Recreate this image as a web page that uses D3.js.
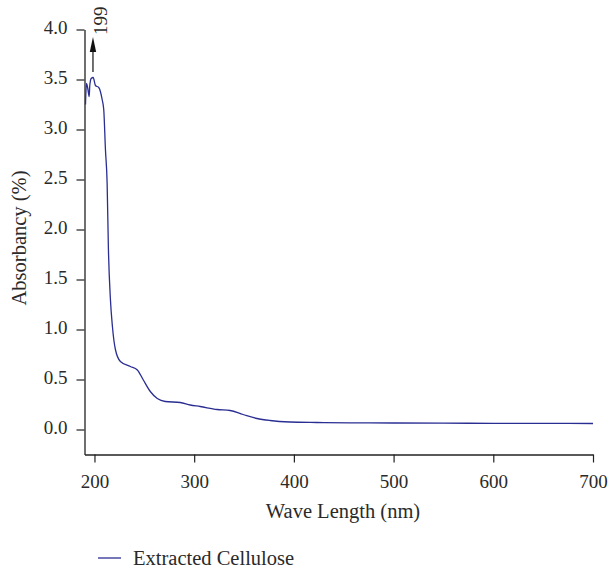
<!DOCTYPE html>
<meta charset="utf-8">
<style>
  body { margin: 0; background: #fff; }
  text { font-family: "Liberation Serif", "Times New Roman", serif; fill: #2a2a2a; }
</style>
<svg width="610" height="575"></svg>
<script src="https://cdn.jsdelivr.net/npm/d3@7"></script>
<script>

// UV-vis spectrum
var wavelength = [191, 192, 193.3, 194.7, 195.3, 196.7, 198.7, 201, 204.3, 207.7, 209.3, 211, 212.7, 214, 216, 218, 221, 226, 236, 243, 249, 256, 263, 271, 286, 296, 306, 323, 336, 349, 363, 376, 396, 423, 456, 500, 550, 600, 650, 700];
var absorbance = [3.25, 3.46, 3.41, 3.33, 3.44, 3.51, 3.52, 3.44, 3.42, 3.30, 3.20, 2.80, 2.46, 1.80, 1.30, 1.03, 0.80, 0.68, 0.63, 0.595, 0.495, 0.38, 0.31, 0.28, 0.27, 0.245, 0.23, 0.20, 0.19, 0.15, 0.11, 0.09, 0.075, 0.07, 0.067, 0.065, 0.063, 0.062, 0.061, 0.06];

var xTicks = [200, 300, 400, 500, 600, 700];
var yTicks = [0, 0.5, 1, 1.5, 2, 2.5, 3, 3.5, 4];
var peakWave = 199;
var seriesName = "Extracted Cellulose";

var svg = d3.select("svg"),
    font = "Liberation Serif, Times New Roman, serif",
    ink = "#222",
    blue = "#2a2e92";

var x = d3.scaleLinear().domain([190, 700]).range([84.5, 593]);
var y = d3.scaleLinear().domain([-0.25, 4]).range([454.5, 29.5]);

var data = wavelength.map(function(w, i) { return {w: w, a: absorbance[i]}; });

// x axis with minor ticks
var xAxis = svg.append("g").attr("transform", "translate(0,454.5)");
xAxis.call(d3.axisBottom(x).tickValues(d3.range(250, 701, 100)).tickSize(4).tickFormat(""));
xAxis.call(d3.axisBottom(x).tickValues(xTicks).tickSize(8).tickSizeOuter(0).tickFormat(d3.format("d")));
xAxis.attr("font-family", font);
xAxis.selectAll(".domain").attr("stroke", ink).attr("stroke-width", 1.3);
xAxis.selectAll("line").attr("stroke", ink).attr("stroke-width", 1.2);
xAxis.selectAll("text").attr("font-size", 19).attr("y", 33).attr("dy", 0).attr("fill", "#2a2a2a");

// y axis with minor ticks
var yAxis = svg.append("g").attr("transform", "translate(84.5,0)");
yAxis.call(d3.axisLeft(y).tickValues(d3.range(-0.25, 4, 0.5)).tickSize(4).tickFormat(""));
yAxis.call(d3.axisLeft(y).tickValues(yTicks).tickSize(8).tickSizeOuter(0).tickFormat(d3.format(".1f")));
yAxis.attr("font-family", font);
yAxis.selectAll(".domain").attr("stroke", ink).attr("stroke-width", 1.3);
yAxis.selectAll("line").attr("stroke", ink).attr("stroke-width", 1.2);
yAxis.selectAll("text").attr("font-size", 19).attr("x", -17).attr("dy", "0.22em").attr("fill", "#2a2a2a");

// spectrum
svg.append("path")
    .datum(data)
    .attr("fill", "none")
    .attr("stroke", blue)
    .attr("stroke-width", 1.3)
    .attr("d", d3.line()
        .x(function(d) { return x(d.w); })
        .y(function(d) { return y(d.a); })
        .curve(d3.curveMonotoneX));

// peak arrow
var ax = x(peakWave) - 0.5;
svg.append("line")
    .attr("x1", ax).attr("x2", ax)
    .attr("y1", 72).attr("y2", 50)
    .attr("stroke", "#111").attr("stroke-width", 1.2);
svg.append("path")
    .attr("d", "M" + ax + ",37L" + (ax - 3.2) + ",52L" + (ax + 3.2) + ",52Z")
    .attr("fill", "#111");
svg.append("text")
    .attr("transform", "translate(" + (ax + 14) + ",35) rotate(-90)")
    .attr("font-size", 19)
    .text(peakWave);

// axis titles
svg.append("text")
    .attr("x", 343).attr("y", 518)
    .attr("text-anchor", "middle")
    .attr("font-size", 20.5)
    .text("Wave Length (nm)");
svg.append("text")
    .attr("transform", "translate(26,238) rotate(-90)")
    .attr("text-anchor", "middle")
    .attr("font-size", 20.5)
    .text("Absorbancy (%)");

// legend
svg.append("line")
    .attr("x1", 98).attr("x2", 121)
    .attr("y1", 558).attr("y2", 558)
    .attr("stroke", blue).attr("stroke-width", 1.3);
svg.append("text")
    .attr("x", 133).attr("y", 565)
    .attr("font-size", 20.5)
    .text(seriesName);

</script>
